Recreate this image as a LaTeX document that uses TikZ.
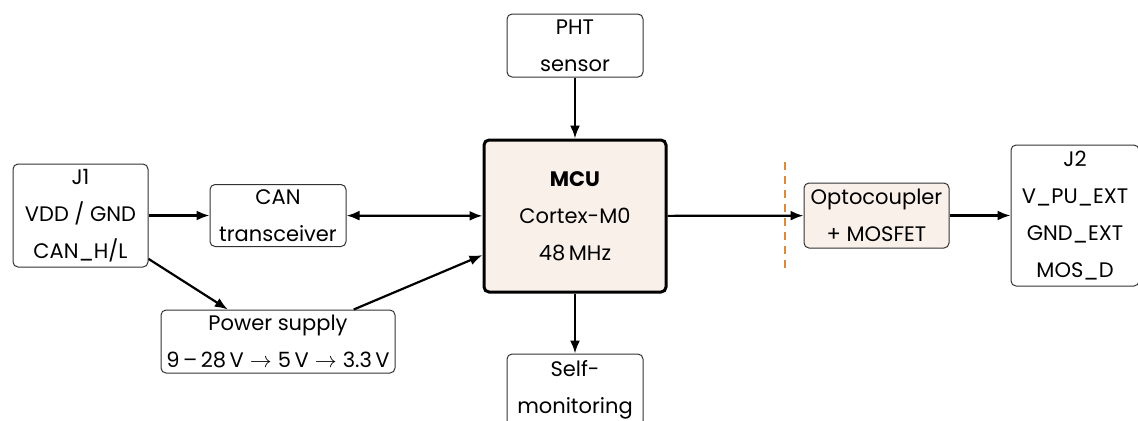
\documentclass[tikz,border=0pt]{standalone}
\usepackage{fontspec}
\setmainfont{Poppins}
\usetikzlibrary{positioning}
\usetikzlibrary{arrows.meta}
\definecolor{peach}{HTML}{F9F0EA}
\definecolor{cutline}{HTML}{D98A3A}
\definecolor{edgegray}{HTML}{333333}

\begin{document}
\begin{tikzpicture}[x=0.5pt,y=-0.5pt,
    >={Latex[length=6.5pt,width=5pt]},
    font=\fontsize{10.5}{18.5}\selectfont,
    block/.style={rectangle,draw=edgegray,line width=0.5pt,rounded corners=2.5pt,align=center,inner sep=0pt},
    link/.style={line width=1.1pt}]
        \useasboundingbox (0,0) rectangle (1138,420);
        %
        \node[block,minimum width=67.5pt,minimum height=51.5pt] (j1) at (80.5,215.5) {J1\\VDD / GND\\CAN\_H/L};
        \node[block,minimum width=68pt,minimum height=31pt] (can) at (278,215.5) {CAN\\transceiver};
        \node[block,minimum width=117pt,minimum height=31.5pt] (power) at (278,341.5) {Power supply\\9\,–\,28\,V${}\to{}$5\,V${}\to{}$3.3\,V};
        \node[block,draw=black,line width=1.5pt,fill=peach,minimum width=91pt,minimum height=76pt] (mcu) at (575,216) {\textbf{MCU}\\Cortex-M0\\48\,MHz};
        \node[block,minimum width=68pt,minimum height=31.5pt] (pht) at (575,45.5) {PHT\\sensor};
        \node[block,minimum width=68pt,minimum height=36pt] (self) at (575,390) {Self-\\monitoring};
        \node[block,fill=peach,minimum width=72.5pt,minimum height=32.5pt] (opto) at (876.5,215.5) {Optocoupler\\+ MOSFET};
        \node[block,minimum width=64pt,minimum height=70.5pt] (j2) at (1075,215.5) {J2\\V\_PU\_EXT\\GND\_EXT\\MOS\_D};
        %
        \draw [cutline,line width=1pt,dash pattern=on 4pt off 3pt] (785,162) -- (785,272);
        %
        \draw [link,->] (j1) to (can);
        \draw [link,<->] (can) to (mcu);
        \draw [link,->] (mcu) to (opto);
        \draw [link,->] (opto) to (j2);
        \draw [link,->] (pht) to (mcu);
        \draw [link,->] (mcu) to (self);
        \draw [link,->] (j1) to (power);
        \draw [link,->] (power) to (mcu);
        %
\end{tikzpicture}
\end{document}
